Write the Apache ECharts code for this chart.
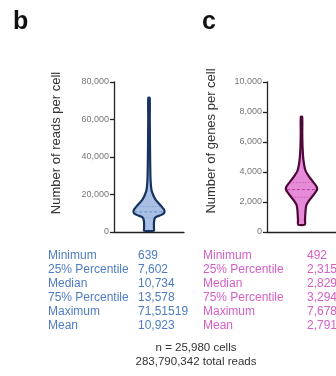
<!DOCTYPE html>
<html lang="en">
<head>
<meta charset="UTF-8">
<title>Reads and genes per cell</title>
<script src="https://cdn.jsdelivr.net/npm/echarts@6/dist/echarts.min.js"></script>
<style>
  html, body { margin: 0; padding: 0; background: #fff; }
  #main { width: 336px; height: 376px; }
</style>
</head>
<body>
<div id="main"></div>
<script>
// violin outlines: value levels and relative half-widths (1 = widest)
var readsLevels = [639, 2000, 5000, 7000, 8000, 9000, 10000, 11000, 12000, 13000, 14000, 15500, 17000, 18800, 20000, 22400, 27700, 35000, 45000, 60000, 71519];
var readsWidth  = [0.32, 0.32, 0.32, 0.36, 0.45, 0.77, 0.97, 1.0, 0.97, 0.87, 0.77, 0.61, 0.45, 0.32, 0.26, 0.16, 0.10, 0.08, 0.065, 0.05, 0.045];
var genesLevels = [492, 800, 1340, 1790, 2120, 2450, 2780, 3000, 3330, 3660, 4100, 4770, 5650, 6600, 7678];
var genesWidth  = [0.22, 0.23, 0.26, 0.32, 0.52, 0.77, 1.0, 1.0, 0.77, 0.52, 0.26, 0.13, 0.07, 0.05, 0.045];

// quartiles drawn inside the violins
var readsQuart = [7602, 10734, 13578];
var genesQuart = [2315, 2829, 3294];

// summary table
var statLabels = ['Minimum', '25% Percentile', 'Median', '75% Percentile', 'Maximum', 'Mean'];
var readsStats = ['639', '7,602', '10,734', '13,578', '71,51519', '10,923'];
var genesStats = ['492', '2,315', '2,829', '3,294', '7,678', '2,791'];
var footLines = ['n = 25,980 cells', '283,790,342 total reads'];

var myChart = echarts.init(document.getElementById('main'));

function widthAt(levels, widths, v) {
    for (var i = 0; i < levels.length - 1; i++) {
        if (v >= levels[i] && v <= levels[i + 1]) {
            var t = (v - levels[i]) / (levels[i + 1] - levels[i]);
            return widths[i] + t * (widths[i + 1] - widths[i]);
        }
    }
    return 0;
}

function violin(levels, widths, quart, fill, stroke, dash) {
    return function (params, api) {
        var right = [], left = [];
        for (var i = 0; i < levels.length; i++) {
            right.push(api.coord([widths[i], levels[i]]));
            left.unshift(api.coord([-widths[i], levels[i]]));
        }
        var children = [{
            type: 'polygon',
            shape: { points: right.concat(left), smooth: 0.25 },
            style: { fill: fill, stroke: stroke, lineWidth: 2.2, lineJoin: 'round' }
        }];
        quart.forEach(function (q, k) {
            var w = widthAt(levels, widths, q) - 0.04;
            var a = api.coord([-w, q]), b = api.coord([w, q]);
            children.push({
                type: 'line',
                shape: { x1: a[0], y1: a[1], x2: b[0], y2: b[1] },
                style: { stroke: dash, lineWidth: k === 1 ? 1 : 0.8, lineDash: k === 1 ? [3, 2] : [1.5, 1.5], opacity: k === 1 ? 0.9 : 0.6 }
            });
        });
        return { type: 'group', children: children };
    };
}

var axisCol = '#222';
function yAxis(idx, max, interval) {
    return {
        type: 'value', gridIndex: idx, min: 0, max: max, interval: interval,
        axisLine: { show: true, onZero: false, lineStyle: { color: axisCol, width: 1.3 } },
        axisTick: { show: true, length: 4, lineStyle: { color: axisCol, width: 1.3 } },
        axisLabel: { color: '#777', fontSize: 9, margin: 5, fontFamily: 'Liberation Sans',
            formatter: function (v) { return v.toLocaleString('en-US'); } },
        splitLine: { show: false }
    };
}
function catAxis(idx) {
    return {
        type: 'category', gridIndex: idx, data: [''], boundaryGap: true,
        axisLine: { onZero: false, lineStyle: { color: axisCol, width: 1.3 } },
        axisTick: { alignWithLabel: true, length: 3, lineStyle: { color: axisCol, width: 1.2 } },
        axisLabel: { show: false }
    };
}
function valAxis(idx) {
    return { type: 'value', gridIndex: idx, min: -2.26, max: 2.26, show: false };
}

function textBlock(x, y, lines, color, align) {
    return {
        type: 'text', left: x, top: y,
        style: { text: lines.join('\n'), fill: color, font: '12px "Liberation Sans"', lineHeight: 14, align: align || 'left' }
    };
}

var option = {
    backgroundColor: '#fff',
    grid: [
        { left: 114, top: 82, width: 70, height: 150 },
        { left: 267, top: 82, width: 70, height: 150 }
    ],
    xAxis: [catAxis(0), catAxis(1), valAxis(0), valAxis(1)],
    yAxis: [yAxis(0, 80000, 20000), yAxis(1, 10000, 2000)],
    series: [{
        type: 'custom', xAxisIndex: 2, yAxisIndex: 0,
        renderItem: violin(readsLevels, readsWidth, readsQuart, '#a9c0e4', '#16325f', '#5f86c8'),
        data: [[0, 0]], silent: true
    }, {
        type: 'custom', xAxisIndex: 3, yAxisIndex: 1,
        renderItem: violin(genesLevels, genesWidth, genesQuart, '#e68bd8', '#4e0838', '#b8329c'),
        data: [[0, 0]], silent: true
    }],
    graphic: [
        { type: 'text', left: 13, top: 10, style: { text: 'b', font: 'bold 25px "Liberation Sans"', fill: '#111' } },
        { type: 'text', left: 202, top: 10, style: { text: 'c', font: 'bold 25px "Liberation Sans"', fill: '#111' } },
        { type: 'text', x: 56, y: 143, rotation: Math.PI / 2,
          style: { text: 'Number of reads per cell', font: '13px "Liberation Sans"', fill: '#333', align: 'center', verticalAlign: 'middle' } },
        { type: 'text', x: 211, y: 141, rotation: Math.PI / 2,
          style: { text: 'Number of genes per cell', font: '13px "Liberation Sans"', fill: '#333', align: 'center', verticalAlign: 'middle' } },
        textBlock(48, 249, statLabels, '#4f7cc4'),
        textBlock(138, 249, readsStats, '#4f7cc4'),
        textBlock(203, 249, statLabels, '#d560c6'),
        textBlock(307, 249, genesStats, '#d560c6'),
        { type: 'text', x: 196, y: 341,
          style: { text: footLines.join('\n'), font: '11.5px "Liberation Sans"', fill: '#333', lineHeight: 14, align: 'center' } }
    ]
};
myChart.setOption(option);
</script>
</body>
</html>
